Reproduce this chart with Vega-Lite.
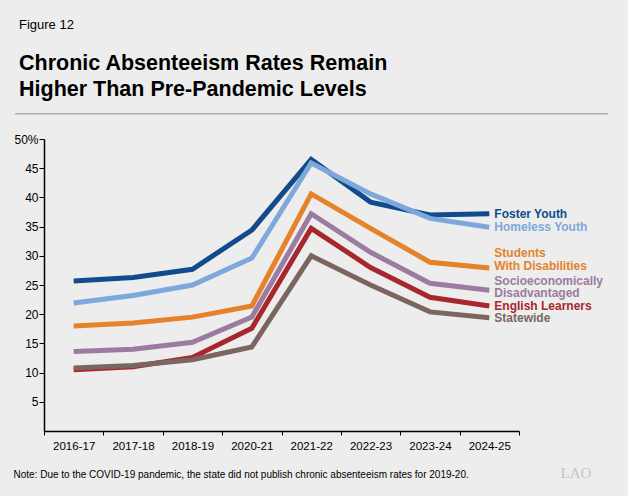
{
  "$schema": "https://vega.github.io/schema/vega-lite/v6.json",
  "width": 475,
  "height": 292,
  "autosize": {"type": "none"},
  "padding": {"left": 44, "top": 139, "right": 109, "bottom": 65},
  "background": "#ecedec",
  "config": {
    "view": {"stroke": null},
    "font": "Liberation Sans",
    "axis": {"labelFont": "Liberation Sans", "titleFont": "Liberation Sans"}
  },
  "title": {
    "text": "Figure 12",
    "subtitle": ["Chronic Absenteeism Rates Remain", "Higher Than Pre-Pandemic Levels"],
    "anchor": "start",
    "frame": "group",
    "dx": -25,
    "offset": 13,
    "font": "Liberation Sans",
    "fontSize": 13,
    "fontWeight": "normal",
    "color": "#000000",
    "subtitleFont": "Liberation Sans",
    "subtitleFontSize": 21.5,
    "subtitleFontWeight": "bold",
    "subtitleColor": "#000000",
    "subtitleLineHeight": 25.5,
    "subtitlePadding": 21
  },
  "datasets": {
    "rates": [
      {"series": "Foster Youth", "year": "2016-17", "value": 25.7},
      {"series": "Foster Youth", "year": "2017-18", "value": 26.3},
      {"series": "Foster Youth", "year": "2018-19", "value": 27.7},
      {"series": "Foster Youth", "year": "2020-21", "value": 34.4},
      {"series": "Foster Youth", "year": "2021-22", "value": 46.5},
      {"series": "Foster Youth", "year": "2022-23", "value": 39.2},
      {"series": "Foster Youth", "year": "2023-24", "value": 37.0},
      {"series": "Foster Youth", "year": "2024-25", "value": 37.2},
      {"series": "Homeless Youth", "year": "2016-17", "value": 21.9},
      {"series": "Homeless Youth", "year": "2017-18", "value": 23.2},
      {"series": "Homeless Youth", "year": "2018-19", "value": 25.0},
      {"series": "Homeless Youth", "year": "2020-21", "value": 29.6},
      {"series": "Homeless Youth", "year": "2021-22", "value": 45.9},
      {"series": "Homeless Youth", "year": "2022-23", "value": 40.6},
      {"series": "Homeless Youth", "year": "2023-24", "value": 36.4},
      {"series": "Homeless Youth", "year": "2024-25", "value": 34.9},
      {"series": "Students With Disabilities", "year": "2016-17", "value": 18.0},
      {"series": "Students With Disabilities", "year": "2017-18", "value": 18.5},
      {"series": "Students With Disabilities", "year": "2018-19", "value": 19.5},
      {"series": "Students With Disabilities", "year": "2020-21", "value": 21.4},
      {"series": "Students With Disabilities", "year": "2021-22", "value": 40.6},
      {"series": "Students With Disabilities", "year": "2022-23", "value": 34.7},
      {"series": "Students With Disabilities", "year": "2023-24", "value": 28.9},
      {"series": "Students With Disabilities", "year": "2024-25", "value": 27.9},
      {"series": "Socioeconomically Disadvantaged", "year": "2016-17", "value": 13.6},
      {"series": "Socioeconomically Disadvantaged", "year": "2017-18", "value": 14.0},
      {"series": "Socioeconomically Disadvantaged", "year": "2018-19", "value": 15.2},
      {"series": "Socioeconomically Disadvantaged", "year": "2020-21", "value": 19.5},
      {"series": "Socioeconomically Disadvantaged", "year": "2021-22", "value": 37.2},
      {"series": "Socioeconomically Disadvantaged", "year": "2022-23", "value": 30.6},
      {"series": "Socioeconomically Disadvantaged", "year": "2023-24", "value": 25.3},
      {"series": "Socioeconomically Disadvantaged", "year": "2024-25", "value": 24.1},
      {"series": "English Learners", "year": "2016-17", "value": 10.5},
      {"series": "English Learners", "year": "2017-18", "value": 11.0},
      {"series": "English Learners", "year": "2018-19", "value": 12.6},
      {"series": "English Learners", "year": "2020-21", "value": 17.6},
      {"series": "English Learners", "year": "2021-22", "value": 34.7},
      {"series": "English Learners", "year": "2022-23", "value": 28.0},
      {"series": "English Learners", "year": "2023-24", "value": 22.9},
      {"series": "English Learners", "year": "2024-25", "value": 21.4},
      {"series": "Statewide", "year": "2016-17", "value": 10.8},
      {"series": "Statewide", "year": "2017-18", "value": 11.2},
      {"series": "Statewide", "year": "2018-19", "value": 12.2},
      {"series": "Statewide", "year": "2020-21", "value": 14.4},
      {"series": "Statewide", "year": "2021-22", "value": 30.0},
      {"series": "Statewide", "year": "2022-23", "value": 25.0},
      {"series": "Statewide", "year": "2023-24", "value": 20.4},
      {"series": "Statewide", "year": "2024-25", "value": 19.4}
    ]
  },
  "resolve": {"scale": {"x": "independent"}, "axis": {"x": "independent", "y": "independent"}},
  "layer": [
    {
      "data": {"name": "rates"},
      "encoding": {
        "x": {
          "field": "year",
          "type": "ordinal",
          "scale": {"type": "band", "paddingInner": 0, "paddingOuter": 0},
          "axis": {
            "title": "Note: Due to the COVID-19 pandemic, the state did not publish chronic absenteeism rates for 2019-20.",
            "titleX": -31,
            "titleY": 46,
            "titleAlign": "left",
            "titleAnchor": "start",
            "titleBaseline": "alphabetic",
            "titleFontSize": 10,
            "titleFontWeight": "normal",
            "titleColor": "#000000",
            "labelAngle": 0,
            "labelFontSize": 11.5,
            "labelColor": "#000000",
            "labelPadding": 5,
            "labelOverlap": false,
            "tickBand": "extent",
            "tickSize": 4,
            "tickColor": "#000000",
            "domainColor": "#000000",
            "domainWidth": 1.5,
            "grid": false
          }
        },
        "y": {
          "field": "value",
          "type": "quantitative",
          "scale": {"domain": [0, 50], "nice": false},
          "axis": {
            "values": [5, 10, 15, 20, 25, 30, 35, 40, 45, 50],
            "labelExpr": "datum.value == 50 ? '50%' : datum.label + '\u00a0\u00a0\u00a0'",
            "labelFontSize": 12,
            "labelColor": "#000000",
            "labelPadding": 1,
            "labelOverlap": false,
            "labelFlush": false,
            "tickSize": 5,
            "tickColor": "#000000",
            "domainColor": "#000000",
            "domainWidth": 1.5,
            "grid": false,
            "title": "LAO",
            "titleAngle": 0,
            "titleX": 516,
            "titleY": 338,
            "titleAlign": "left",
            "titleBaseline": "alphabetic",
            "titleFont": "Liberation Serif",
            "titleFontSize": 15,
            "titleFontWeight": "normal",
            "titleColor": "#c3c5c5"
          }
        },
        "color": {
          "field": "series",
          "type": "nominal",
          "scale": {
            "domain": ["Foster Youth", "Homeless Youth", "Students With Disabilities", "Socioeconomically Disadvantaged", "English Learners", "Statewide"],
            "range": ["#114b8b", "#7ea8dc", "#e5822a", "#9c7ba0", "#a8272d", "#7b665f"]
          },
          "legend": null
        }
      },
      "layer": [
        {"mark": {"type": "line", "strokeWidth": 5, "strokeJoin": "miter"}},
        {
          "transform": [
            {"filter": "datum.year == '2024-25' && (datum.series == 'Foster Youth' || datum.series == 'Homeless Youth' || datum.series == 'English Learners' || datum.series == 'Statewide')"}
          ],
          "mark": {"type": "text", "align": "left", "baseline": "middle", "dx": 5, "dy": 0, "fontSize": 12, "fontWeight": "bold"},
          "encoding": {"text": {"field": "series"}}
        },
        {
          "transform": [
            {"filter": "datum.year == '2024-25' && datum.series == 'Students With Disabilities'"},
            {"calculate": "['Students', 'With Disabilities']", "as": "label"}
          ],
          "mark": {"type": "text", "align": "left", "baseline": "alphabetic", "dx": 5, "dy": -11, "lineHeight": 13, "fontSize": 12, "fontWeight": "bold"},
          "encoding": {"text": {"field": "label"}}
        },
        {
          "transform": [
            {"filter": "datum.year == '2024-25' && datum.series == 'Socioeconomically Disadvantaged'"},
            {"calculate": "['Socioeconomically', 'Disadvantaged']", "as": "label"}
          ],
          "mark": {"type": "text", "align": "left", "baseline": "alphabetic", "dx": 5, "dy": -5, "lineHeight": 12, "fontSize": 12, "fontWeight": "bold"},
          "encoding": {"text": {"field": "label"}}
        }
      ]
    },
    {
      "data": {"values": [{"from": -0.061, "to": 1.187, "level": 54.3}]},
      "mark": {"type": "rule", "color": "#8c8c8c", "strokeWidth": 1},
      "encoding": {
        "x": {"field": "from", "type": "quantitative", "scale": {"domain": [0, 1], "nice": false, "zero": false}, "axis": null},
        "x2": {"field": "to"},
        "y": {"field": "level", "type": "quantitative", "axis": null}
      }
    }
  ]
}
